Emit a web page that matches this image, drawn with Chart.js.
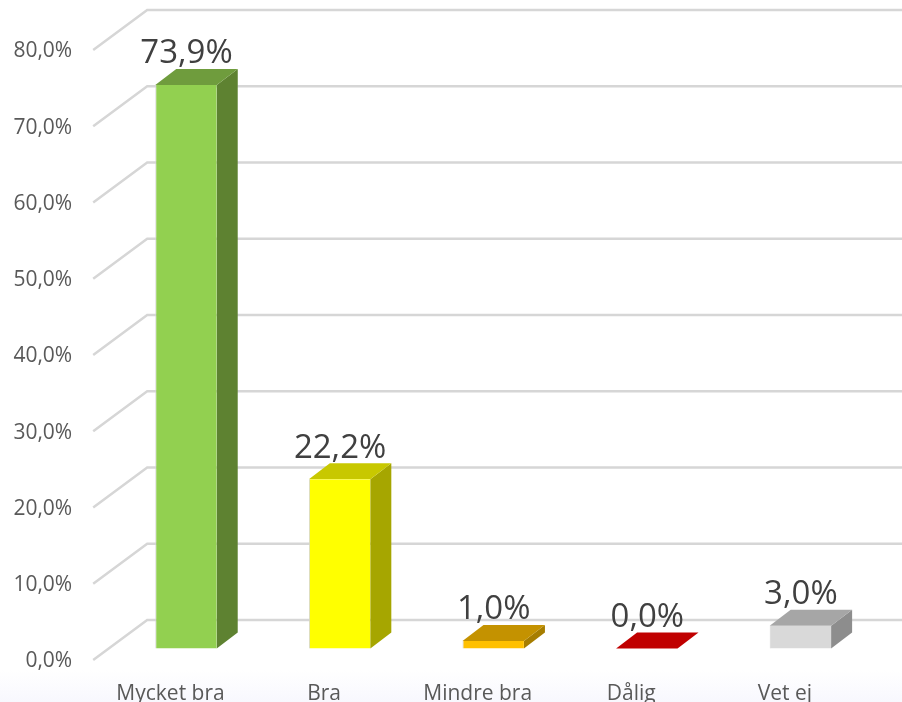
<!DOCTYPE html>
<html>
<head>
<meta charset="utf-8">
<script src="https://cdn.jsdelivr.net/npm/chart.js@4"></script>
<style>
  html, body { margin: 0; padding: 0; overflow: hidden; }
  body { width: 902px; height: 702px; background: linear-gradient(to bottom, #ffffff 0, #ffffff 670px, #f8f8fe 702px); }
  canvas { display: block; }
</style>
</head>
<body>
<canvas id="myChart" width="902" height="702"></canvas>
<script>
var categories = ["Mycket bra", "Bra", "Mindre bra", "Dålig", "Vet ej"];
var values = [73.9, 22.2, 1.0, 0.0, 3.0];

// colours per bar
var frontColors = ['#92d050', '#ffff00', '#ffc000', '#c00000', '#d9d9d9'];
var sideColors = ['#5e8231', '#a6a600', '#a67d00', '#800000', '#8d8d8d'];
var topColors = ['#6f9c3d', '#c8c800', '#c49200', '#c00000', '#a6a6a6'];

// 3D look of the plot
var plotTop = 50, plotBottom = 660;
var wallDx = 54, wallDy = -40;   // axis plane -> back wall
var barLift = -11.5;             // axis plane -> bar front
var barDx = 21, barDy = -16;     // bar depth

function pct(v) {
    return v.toFixed(1).replace('.', ',') + '%';
}

function poly(ctx, pts, fill) {
    ctx.beginPath();
    ctx.moveTo(pts[0][0], pts[0][1]);
    for (var i = 1; i < pts.length; i++) ctx.lineTo(pts[i][0], pts[i][1]);
    ctx.closePath();
    ctx.fillStyle = fill;
    ctx.fill();
}

var bars3d = {
    id: 'bars3d',
    // layout keeps a margin under the x axis, pin the plot to where it belongs
    afterLayout: function (chart) {
        var a = chart.chartArea, x = chart.scales.x, y = chart.scales.y;
        a.top = plotTop;
        a.bottom = plotBottom;
        a.height = plotBottom - plotTop;
        y.top = plotTop;
        y.bottom = plotBottom;
        y.height = plotBottom - plotTop;
        y.configure();
        x.top = plotBottom;
        x.bottom = chart.height;
        x.height = chart.height - plotBottom;
    },
    // walls and gridlines
    beforeDatasetsDraw: function (chart) {
        var ctx = chart.ctx, y = chart.scales.y, x0 = chart.chartArea.left - 16;
        ctx.save();
        ctx.strokeStyle = '#d6d6d6';
        ctx.lineWidth = 2.5;
        y.ticks.forEach(function (t) {
            var py = y.getPixelForValue(t.value);
            ctx.beginPath();
            ctx.moveTo(x0, py);
            ctx.lineTo(x0 + wallDx, py + wallDy);
            ctx.lineTo(chart.width, py + wallDy);
            ctx.stroke();
        });
        ctx.restore();
    },
    // side and top faces, then chart.js draws the front
    beforeDatasetDraw: function (chart, args) {
        var ctx = chart.ctx;
        ctx.save();
        ctx.translate(0, barLift);
        args.meta.data.forEach(function (bar, i) {
            var w = bar.width / 2, l = bar.x - w, r = bar.x + w, top = bar.y, base = bar.base;
            if (base - top > 0.5) {
                poly(ctx, [[r, top], [r + barDx, top + barDy], [r + barDx, base + barDy], [r, base]], sideColors[i]);
            }
            poly(ctx, [[l, top], [l + barDx, top + barDy], [r + barDx, top + barDy], [r, top]], topColors[i]);
        });
    },
    afterDatasetDraw: function (chart, args) {
        var ctx = chart.ctx;
        ctx.restore();
        // value labels
        ctx.save();
        ctx.font = '33px "Open Sans"';
        ctx.fillStyle = '#404040';
        ctx.textAlign = 'center';
        ctx.textBaseline = 'middle';
        args.meta.data.forEach(function (bar, i) {
            ctx.fillText(pct(values[i]), bar.x + 0.5, bar.y + barLift - 31);
        });
        ctx.restore();
    }
};

var ctx = document.getElementById('myChart').getContext('2d');
var chart = new Chart(ctx, {
    type: 'bar',
    data: {
        labels: categories,
        datasets: [{
            data: values,
            backgroundColor: frontColors,
            borderColor: '#d4d4d4',
            borderWidth: { bottom: 1, left: 1 },
            barPercentage: 1,
            categoryPercentage: 0.4,
            clip: false
        }]
    },
    options: {
        responsive: false,
        animation: false,
        layout: { padding: { top: 50, right: 24.8, bottom: 0, left: 0 } },
        plugins: { legend: { display: false }, tooltip: { enabled: false } },
        scales: {
            x: {
                grid: { display: false, drawTicks: false },
                border: { display: false },
                afterFit: function (scale) { scale.height = 42; },
                ticks: {
                    color: '#595959',
                    font: { family: '"Open Sans"', size: 21 },
                    padding: 21,
                    labelOffset: -15.5,
                    maxRotation: 0
                }
            },
            y: {
                min: 0,
                max: 80,
                grid: { display: false, drawTicks: false },
                border: { display: false },
                afterFit: function (scale) { scale.width = 109.2; },
                ticks: {
                    stepSize: 10,
                    color: '#595959',
                    font: { family: '"Open Sans"', size: 21 },
                    padding: 37,
                    labelOffset: 1.5,
                    callback: function (v) { return pct(v); }
                }
            }
        }
    },
    plugins: [bars3d]
});
</script>
</body>
</html>
